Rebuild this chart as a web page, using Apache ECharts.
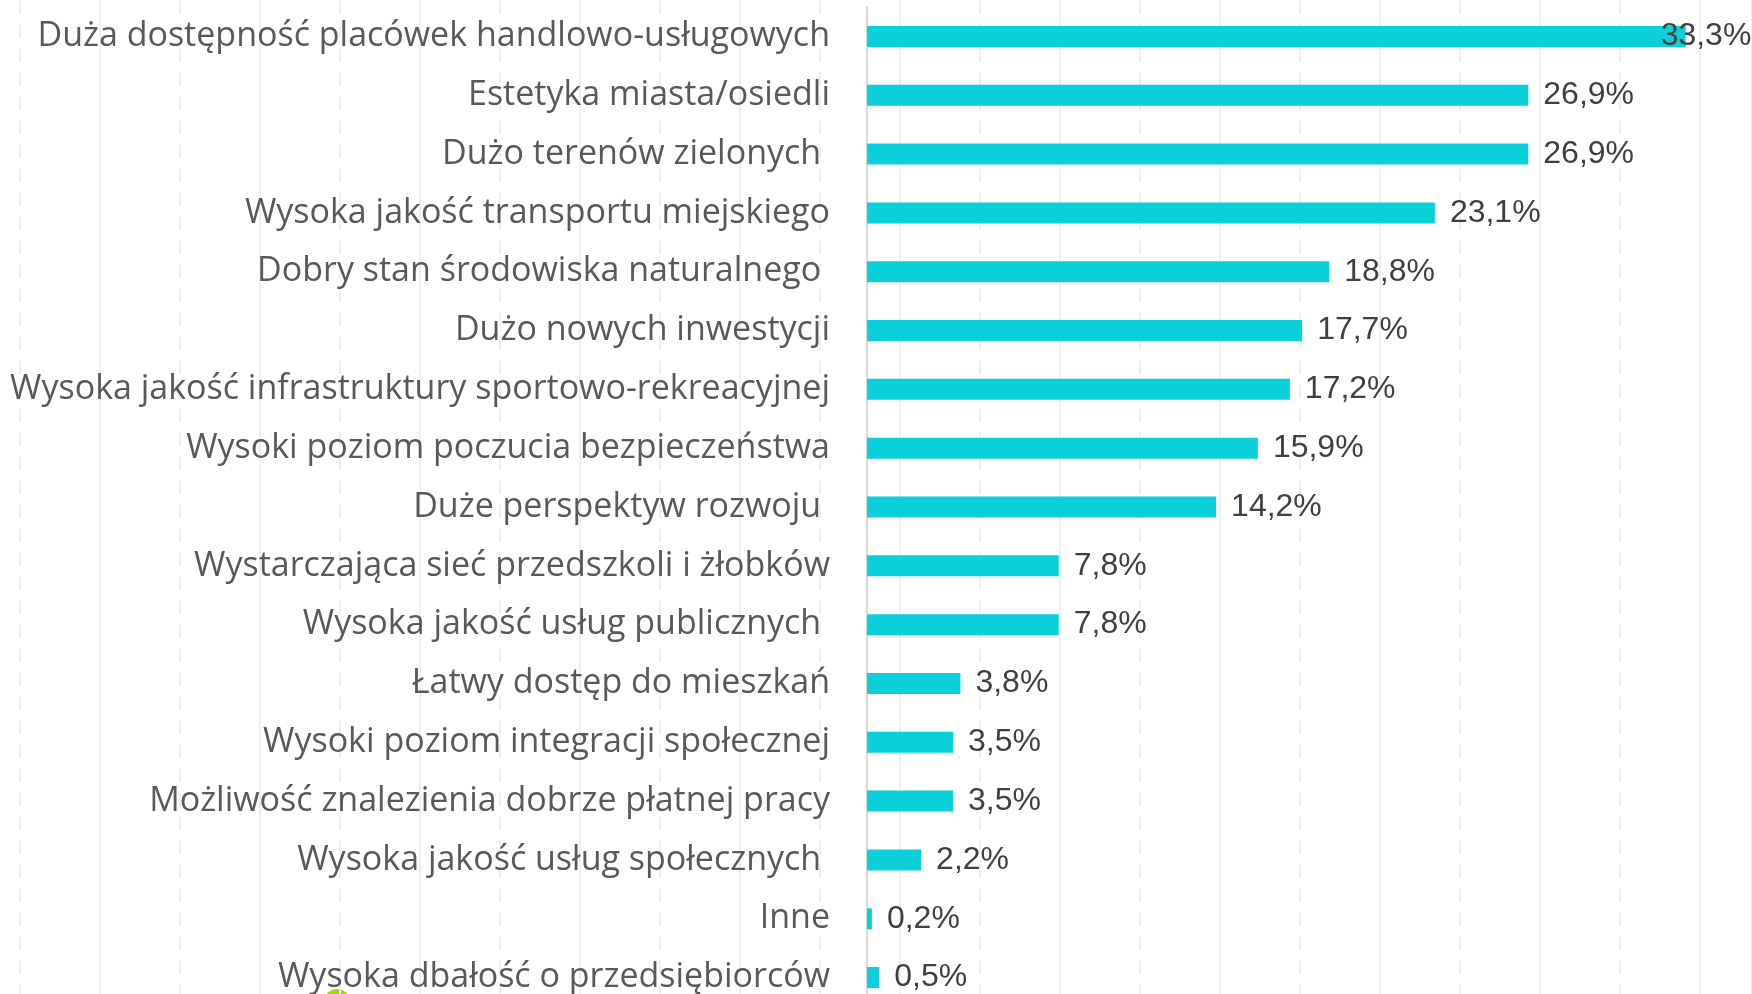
<!DOCTYPE html>
<html>
<head>
<meta charset="utf-8">
<script src="https://cdn.jsdelivr.net/npm/echarts@6/dist/echarts.min.js"></script>
<style>
  html, body { margin: 0; padding: 0; background: #fff; overflow: hidden; }
  #chart { width: 1752px; height: 1012px; }
</style>
</head>
<body>
<div id="chart"></div>
<script>
const BAR_COLOR = '#0bcfd9';
const GRID_LINE = '#efefef';

// trailing spaces are in the original labels
const categories = [
  'Duża dostępność placówek handlowo-usługowych',
  'Estetyka miasta/osiedli',
  'Dużo terenów zielonych ',
  'Wysoka jakość transportu miejskiego',
  'Dobry stan środowiska naturalnego ',
  'Dużo nowych inwestycji',
  'Wysoka jakość infrastruktury sportowo-rekreacyjnej',
  'Wysoki poziom poczucia bezpieczeństwa',
  'Duże perspektyw rozwoju ',
  'Wystarczająca sieć przedszkoli i żłobków',
  'Wysoka jakość usług publicznych ',
  'Łatwy dostęp do mieszkań',
  'Wysoki poziom integracji społecznej',
  'Możliwość znalezienia dobrze płatnej pracy',
  'Wysoka jakość usług społecznych ',
  'Inne',
  'Wysoka dbałość o przedsiębiorców'
];

const values = [33.3, 26.9, 26.9, 23.1, 18.8, 17.7, 17.2, 15.9, 14.2, 7.8, 7.8, 3.8, 3.5, 3.5, 2.2, 0.2, 0.5];

const pct = (v) => v.toFixed(1).replace('.', ',') + '%';

// background guide lines (slide decoration), not tied to the data
const bgAxis = (gridIndex, max, type) => ({
  gridIndex,
  type: 'value',
  min: 0,
  max,
  interval: 160,
  axisLine: { show: false },
  axisTick: { show: false },
  axisLabel: { show: false },
  splitLine: { show: true, lineStyle: { color: GRID_LINE, width: 2, type } }
});

const chartOptions = {
  animation: false,
  grid: [
    { left: 867, right: 0, top: 7, height: 1000 },
    { left: 20, right: 0, top: 0, bottom: 0 },
    { left: 100, right: 0, top: 0, bottom: 0 }
  ],
  xAxis: [
    {
      gridIndex: 0,
      type: 'value',
      min: 0,
      max: 36,
      show: false,
      splitLine: { show: false }
    },
    bgAxis(1, 1732, [14, 10]),
    bgAxis(2, 1652, 'solid')
  ],
  yAxis: [
    {
      gridIndex: 0,
      type: 'category',
      inverse: true,
      data: categories,
      axisLine: { show: true, lineStyle: { color: '#d9d9d9', width: 2 } },
      axisTick: { show: false },
      axisLabel: {
        margin: 37,
        color: '#595959',
        fontSize: 34,
        fontFamily: 'Open Sans'
      }
    },
    { gridIndex: 1, type: 'value', show: false, splitLine: { show: false } },
    { gridIndex: 2, type: 'value', show: false, splitLine: { show: false } }
  ],
  series: [
    {
      type: 'bar',
      xAxisIndex: 0,
      yAxisIndex: 0,
      barWidth: 21,
      itemStyle: { color: BAR_COLOR },
      label: {
        show: true,
        position: 'right',
        distance: 15,
        color: '#404040',
        fontSize: 32,
        fontFamily: 'Liberation Sans',
        formatter: (p) => pct(p.value)
      },
      // first label sits over the bar end in the original
      data: values.map((v, i) => (i === 0 ? { value: v, label: { offset: [-40, 0] } } : v))
    }
  ],
  graphic: [
    {
      type: 'circle',
      shape: { cx: 337, cy: 1002, r: 13 },
      style: { fill: '#9fd21a' },
      silent: true
    }
  ]
};

const chart = echarts.init(document.getElementById('chart'));
chart.setOption(chartOptions);
</script>
</body>
</html>
